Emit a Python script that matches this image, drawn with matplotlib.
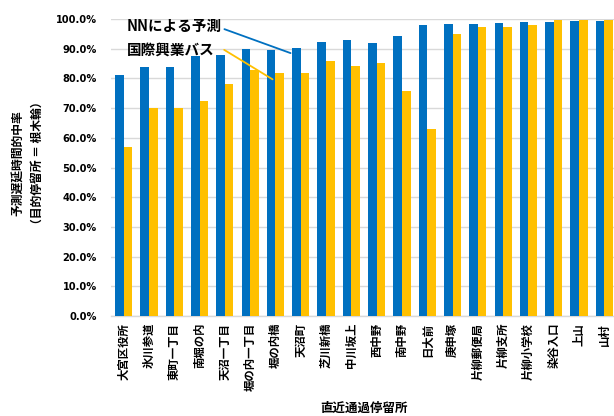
import matplotlib.pyplot as plt
import numpy as np
from matplotlib.ticker import PercentFormatter

plt.rcParams['font.family'] = ['Noto Sans CJK JP', 'DejaVu Sans']
plt.rcParams['font.weight'] = 'bold'

# data
stops = ['大宮区役所', '氷川参道', '東町一丁目', '南堀の内', '天沼一丁目', '堀の内一丁目',
         '堀の内橋', '天沼町', '芝川新橋', '中川坂上', '西中野', '南中野', '日大前',
         '庚申塚', '片柳郵便局', '片柳支所', '片柳小学校', '染谷入口', '上山', '山村']
nn_pred = [0.810, 0.838, 0.838, 0.875, 0.880, 0.899, 0.897, 0.901, 0.923, 0.928,
           0.919, 0.944, 0.979, 0.982, 0.983, 0.988, 0.990, 0.990, 0.992, 0.992]
kokusai = [0.569, 0.700, 0.700, 0.723, 0.782, 0.829, 0.818, 0.818, 0.859, 0.842,
           0.853, 0.757, 0.628, 0.951, 0.973, 0.973, 0.980, 0.996, 0.996, 0.996]

blue = '#0070C0'
yellow = '#FFC000'

W, H = 614, 416
fig = plt.figure(figsize=(W / 100, H / 100), dpi=100)
ax = fig.add_axes([111 / W, 100 / H, 506 / W, 297 / H])

x = np.arange(len(stops))
w = 0.34
ax.bar(x - w / 2, nn_pred, w, color=blue, zorder=3)
ax.bar(x + w / 2, kokusai, w, color=yellow, zorder=3)

ax.set_xlim(-0.5, len(stops) - 0.5)
ax.set_ylim(0, 1.0)
ax.set_yticks(np.arange(0, 1.01, 0.1))
ax.yaxis.set_major_formatter(PercentFormatter(1.0, decimals=1))
ax.grid(axis='y', color='#d9d9d9', lw=1, zorder=0)
for s in ['top', 'right', 'left']:
    ax.spines[s].set_visible(False)
ax.spines['bottom'].set_color('#d9d9d9')
ax.spines['bottom'].set_linewidth(1)
ax.tick_params(axis='y', length=0, pad=10)
ax.tick_params(axis='x', length=0, pad=5, labelsize=8.2)
for lab in ax.get_yticklabels():
    lab.set_fontfamily('DejaVu Sans')
    lab.set_fontsize(7.1)
ax.set_xticks(x)
ax.set_xticklabels(stops, rotation=90, va='top', ha='center')

# series labels with leader lines
ax.text(0.13, 0.976, 'NNによる予測', fontsize=10.5, fontweight='bold', va='center', ha='left')
ax.text(0.13, 0.896, '国際興業バス', fontsize=10.5, fontweight='bold', va='center', ha='left')
ax.annotate('', xy=(6.70, 0.882), xytext=(3.88, 0.969),
            arrowprops=dict(arrowstyle='-', color=blue, lw=1.3), zorder=4)
ax.annotate('', xy=(5.98, 0.792), xytext=(3.88, 0.901),
            arrowprops=dict(arrowstyle='-', color=yellow, lw=1.3), zorder=4)

fig.text(28 / W, 1 - 163 / H, '予測遅延時間的中率\n（目的停留所 ＝ 根木輪）', rotation=90,
         ha='center', va='center', fontsize=8.5, fontweight='bold', linespacing=1.5,
         multialignment='center')
fig.text(364 / W, 8 / H, '直近通過停留所', ha='center', va='center', fontsize=9, fontweight='bold')

fig.savefig('out.png', dpi=100)
